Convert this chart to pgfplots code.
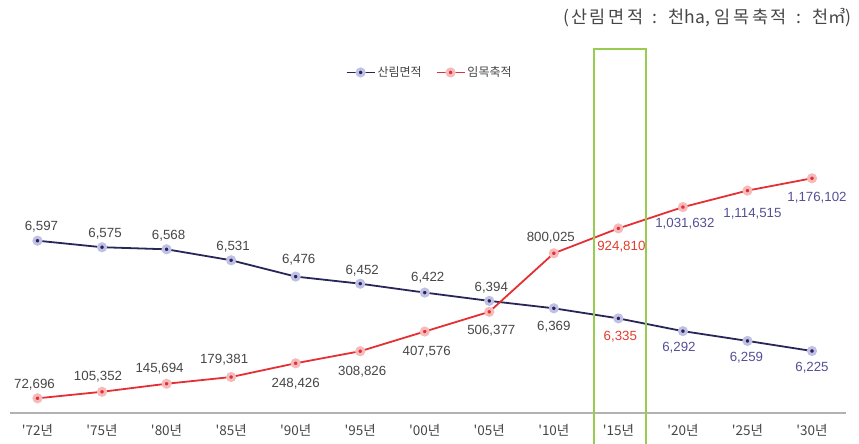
\documentclass[border=0pt]{standalone}
\usepackage{pgfplots}
\pgfplotsset{compat=1.18}
\usepackage{pgfplotstable}
\usepackage{fontspec}
\setmainfont{Liberation Sans}
\newfontfamily\kr{Noto Sans CJK KR}
\newfontfamily\krsp[LetterSpace=14]{Noto Sans CJK KR}
\definecolor{navy}{RGB}{40,38,88}
\definecolor{lav}{RGB}{192,192,230}
\definecolor{redl}{RGB}{228,48,52}
\definecolor{pinkh}{RGB}{246,186,186}
\definecolor{greenb}{RGB}{150,205,80}
\definecolor{lbldark}{RGB}{70,70,70}
\definecolor{lblred}{RGB}{226,60,44}
\definecolor{lblblue}{RGB}{84,80,150}
\definecolor{axgray}{RGB}{178,178,178}

\pgfplotstableread{
x y label dx dy c
0 6597 6,597 4 14 0
1 6575 6,575 3 14 0
2 6568 6,568 2 14 0
3 6531 6,531 2 14 0
4 6476 6,476 3 17 0
5 6452 6,452 2 13 0
6 6422 6,422 3 15 0
7 6394 6,394 2 13 0
8 6369 6,369 0 -18 0
9 6335 6,335 2 -18 1
10 6292 6,292 -4 -17 2
11 6259 6,259 -1 -17 2
12 6225 6,225 0 -17 2
}\forest

\pgfplotstableread{
x y label dx dy c
0 72696 72,696 -3 14 0
1 105352 105,352 -4 15 0
2 145694 145,694 -7 15 0
3 179381 179,381 -7 17 0
4 248426 248,426 0 -20 0
5 308826 308,826 2 -20 0
6 407576 407,576 2 -20 0
7 506377 506,377 2 -19 0
8 800025 800,025 -3 16 0
9 924810 924,810 3 -18 1
10 1031632 1,031,632 2 -17 2
11 1114515 1,114,515 5 -23 2
12 1176102 1,176,102 5 -19 2
}\stock

\pgfplotsset{
  base/.style={
    scale only axis,
    width=836pt, height=373pt,
    at={(10pt,31pt)}, anchor=south west,
    xmin=-0.426, xmax=12.527,
    clip=false,
  },
  lbl/.style={
    nodes near coords={\ifdim\lcn pt<0.5pt\color{lbldark}\else\ifdim\lcn pt<1.5pt\color{lblred}\else\color{lblblue}\fi\fi\pgfplotspointmeta},
    point meta=explicit symbolic,
    visualization depends on={\thisrow{dx}\as\ldx},
    visualization depends on={\thisrow{dy}\as\ldy},
    visualization depends on={\thisrow{c}\as\lcn},
    every node near coord/.append style={anchor=center, xshift=\ldx pt, yshift=\ldy pt,
      font=\fontsize{13.3}{15}\selectfont, inner sep=0pt},
  },
}

\begin{document}
\begin{tikzpicture}
\path[use as bounding box] (0,0) rectangle (859pt,444pt);
\begin{axis}[base,
  ymin=6015.9, ymax=7273.9,
  axis x line=bottom, axis y line=none,
  axis line style={axgray, line width=1.6pt, -},
  xtick={0,...,12},
  xticklabels={'72년,'75년,'80년,'85년,'90년,'95년,'00년,'05년,'10년,'15년,'20년,'25년,'30년},
  major tick length=0pt,
  xticklabel style={font=\kr\fontsize{13.5}{15}\selectfont, text=lbldark, yshift=-8pt},
  legend style={draw=none, fill=none, at={(0.502,0.913)}, anchor=center,
    legend columns=2, font=\kr\fontsize{12}{14}\selectfont, text=lbldark,
    /tikz/every even column/.append style={column sep=12pt}},
  legend cell align=left,
  legend image code/.code={\draw[mark repeat=2,mark phase=2] plot coordinates {(0pt,0pt)(14pt,0pt)(28pt,0pt)};},
]
\addplot[navy, line width=1.8pt, mark=*, mark size=3.5pt,
  mark options={fill=navy, draw=lav, line width=3pt}, lbl]
  table[x=x, y=y, meta=label] {\forest};
\addlegendentry{산림면적}
\addlegendimage{redl, line width=1.8pt, mark=*, mark size=3.5pt,
  mark options={fill=redl, draw=pinkh, line width=3pt}}
\addlegendentry{임목축적}
\end{axis}
\begin{axis}[base, hide axis,
  ymin=-1033, ymax=1869767,
]
\addplot[redl, line width=1.8pt, mark=*, mark size=3.5pt,
  mark options={fill=redl, draw=pinkh, line width=3pt}, lbl]
  table[x=x, y=y, meta=label] {\stock};
\end{axis}
\draw[greenb, line width=2pt] (594pt,-5pt) -- (594pt,394.5pt) -- (646pt,394.5pt) -- (646pt,-5pt);
\node[anchor=east, font=\fontsize{17.5}{19}\selectfont, text=lbldark, inner sep=0pt] at (852pt,426pt) {{\krsp (산림면적 \,:\, 천}{\kr ha,} {\krsp 임목축적 \,:\, 천}{\kr ㎥)}};
\end{tikzpicture}
\end{document}
